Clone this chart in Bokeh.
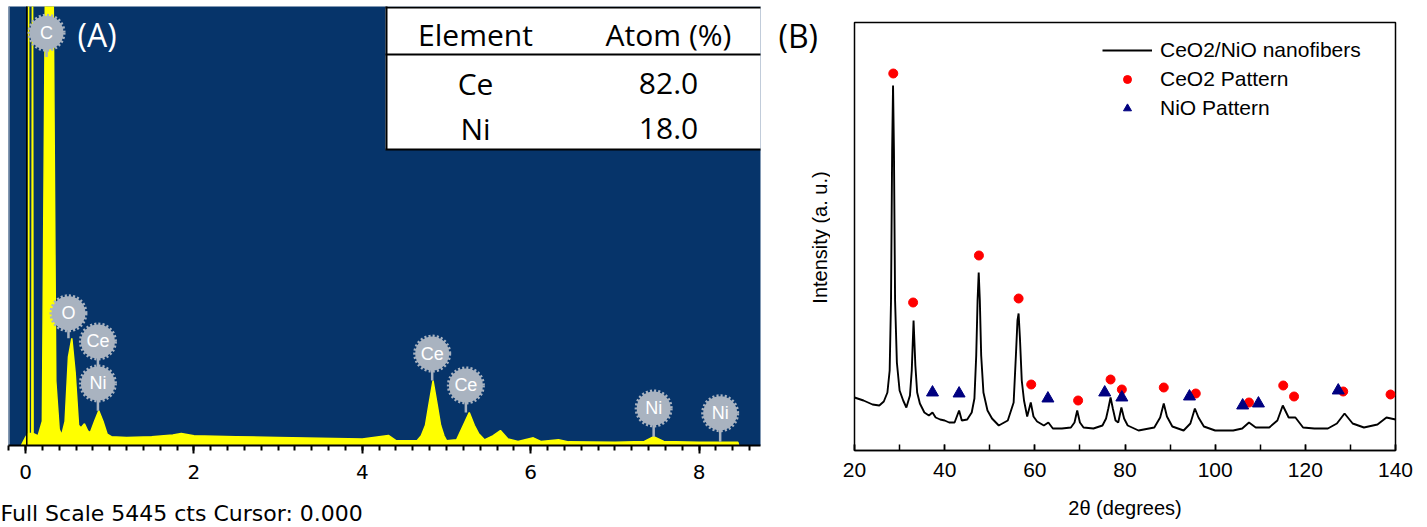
import math
from bokeh.plotting import figure
from bokeh.layouts import row, column
from bokeh.models import (Label, Range1d, SingleIntervalTicker, Legend, LegendItem,
                          ColumnDataSource, Plot)
from bokeh.embed import file_html
from bokeh.resources import INLINE
from bokeh.core.properties import value

# ---------------- (A) EDS spectrum data ----------------
eds_kev = [-0.05, 0.0, 0.03, 0.036, 0.042, 0.075, 0.083, 0.09, 0.15, 0.20, 0.245, 0.32,
           0.36, 0.40, 0.43, 0.47, 0.51, 0.55, 0.59, 0.63, 0.66, 0.70, 0.74, 0.77, 0.82,
           0.87, 0.92, 0.97, 1.02, 1.2, 1.5, 1.75, 1.85, 2.0, 2.5, 3.0, 3.5, 4.0, 4.31,
           4.4, 4.65, 4.70, 4.75, 4.79, 4.84, 4.89, 4.93, 4.97, 5.0, 5.12, 5.2, 5.27, 5.33,
           5.38, 5.45, 5.55, 5.64, 5.73, 5.85, 6.03, 6.12, 6.33, 6.45, 7.0, 7.35, 7.46,
           7.58, 8.0, 8.46, 8.47]
eds_counts = [0, 100, 150, 7000, 150, 150, 7000, 150, 120, 300, 7000, 7000,
              800, 200, 130, 300, 1100, 1330, 900, 250, 220, 270, 180, 160, 300,
              430, 300, 140, 110, 100, 110, 130, 150, 120, 110, 100, 90, 80, 125,
              60, 60, 120, 250, 500, 805, 500, 250, 120, 60, 70, 250, 410, 250,
              150, 70, 120, 185, 80, 50, 95, 50, 70, 45, 40, 50, 110,
              50, 40, 40, 0]
eds_full_scale = 5445

badge_text = ["C", "O", "Ce", "Ni", "Ce", "Ce", "Ni", "Ni"]
badge_kev = [0.25, 0.51, 0.86, 0.86, 4.83, 5.23, 7.46, 8.25]
badge_counts = [5120, 1640, 1290, 770, 1140, 745, 460, 400]
badge_stem_end = [4820, 1330, 770, 430, 805, 410, 110, 45]

table_header = ["Element", "Atom (%)"]
table_element = ["Ce", "Ni"]
table_atom = ["82.0", "18.0"]

# ---------------- (B) XRD data ----------------
xrd_2theta = [20, 22, 24, 25.5, 26.5, 27.3, 27.8, 28.1, 28.35, 28.55, 28.75, 29.0, 29.4,
              30.0, 30.8, 31.5, 32.3, 32.7, 33.1, 33.5, 33.9, 34.5, 35.5, 36.5, 37.3,
              38.0, 39.0, 40.0, 41.0, 42.2, 43.2, 43.8, 45.0, 46.0, 46.6, 47.0, 47.3,
              47.55, 47.8, 48.1, 48.6, 49.5, 50.5, 52.0, 54.0, 55.3, 55.8, 56.15, 56.4,
              56.7, 57.1, 57.6, 58.3, 59.1, 59.7, 60.5, 62.0, 63.0, 64.0, 66.0, 68.0,
              68.8, 69.4, 70.0, 70.8, 73.0, 75.0, 75.8, 76.3, 76.8, 77.3, 77.9, 78.5,
              79.2, 79.8, 80.6, 83.0, 86.5, 87.8, 88.6, 89.3, 90.5, 93.0, 94.5, 95.5,
              96.3, 97.5, 100.0, 104.0, 106.0, 107.5, 109.0, 112.0, 113.8, 115.0,
              116.3, 117.8, 119.5, 122.0, 125.0, 127.0, 128.7, 130.5, 133.0, 136.0,
              138.0, 140.0]
xrd_intensity = [53, 50, 46, 45, 49, 58, 80, 150, 300, 365, 300, 150, 88,
                 60, 50, 43, 55, 80, 130, 85, 58, 47, 38, 35, 38,
                 33, 31, 30, 28, 28, 40, 30, 31, 38, 52, 95, 150,
                 178, 150, 95, 58, 40, 32, 25, 30, 48, 95, 130, 137,
                 112, 70, 50, 34, 48, 34, 29, 25, 28, 22, 22, 23,
                 28, 40, 28, 23, 22, 25, 32, 42, 53, 42, 30, 28,
                 43, 32, 25, 20, 23, 33, 47, 34, 24, 20, 27, 42,
                 33, 24, 20, 20, 22, 28, 23, 23, 30, 45,
                 33, 33, 23, 22, 22, 27, 37, 27, 23, 26,
                 33, 31]
ceo2_2theta = [28.6, 33.0, 47.6, 56.4, 59.2, 69.6, 76.8, 79.3, 88.6, 95.7, 107.5,
               115.1, 117.5, 128.4, 138.9]
ceo2_intensity = [377, 148, 195, 152, 66, 50, 71, 61, 63, 57, 48, 65, 54, 59, 56]
nio_2theta = [37.3, 43.2, 62.9, 75.5, 79.3, 94.3, 106.1, 109.6, 127.3]
nio_intensity = [58, 57, 52, 58, 53, 54, 45, 47, 60]

# ---------------- layout constants (page pixels) ----------------
H = 527
B_T, B_B = 22, 450                     # frame top / bottom for the strip and panel B
A_W, A_L, A_R, A_T = 770, 8, 760, 6
A_H = 500                              # panel A plot height, footer below it
A_BASE = 445                           # bottom of the blue spectrum area
A_X0, A_X1 = -0.202, 8.729
C_W = 60                               # strip holding "(B)" and the y label
B_START = A_W + C_W
B_W, B_L, B_R = 1427 - B_START, 854, 1395
B_X0, B_X1 = 20, 140

NO_ALIGN = {"frame_align": False} if "frame_align" in Plot.properties() else {}


def ax(px):
    return A_X0 + (px - A_L) / (A_R - A_L) * (A_X1 - A_X0)


def ay(py):
    return eds_full_scale * (A_BASE - py) / (A_BASE - A_T)


def by(py):
    return B_B - py


BLUE = "#06346a"
YELLOW = "#ffff00"
BADGE = "#a9b3c0"
base = dict(output_backend="svg", toolbar_location=None, title_location=None,
            **NO_ALIGN)

# ================= Panel A =================
pa = figure(width=A_W, height=A_H, x_range=Range1d(A_X0, A_X1),
            y_range=Range1d(0, eds_full_scale), y_axis_location=None,
            min_border_left=A_L, min_border_right=A_W - A_R,
            min_border_top=A_T, min_border_bottom=A_H - A_BASE, **base)
pa.background_fill_color = BLUE
pa.border_fill_color = "white"
pa.outline_line_color = None
pa.grid.visible = False

src_eds = ColumnDataSource(dict(x=eds_kev, y=eds_counts))
pa.varea(x="x", y1=0, y2="y", source=src_eds, fill_color=YELLOW)
pa.line(x="x", y="y", source=src_eds, line_color=YELLOW, line_width=1.5)
pa.line(x=[ax(A_L) + 0.006] * 2, y=[0, eds_full_scale * 1.2],
        line_color="#8796ad", line_width=1.5)
# cursor line at 0 keV
pa.line(x=[0.015, 0.015], y=[0, eds_full_scale * 1.1], line_color="black",
        line_width=1.5)

# badges
src_b = ColumnDataSource(dict(x=badge_kev, y=badge_counts, y1=badge_stem_end,
                              t=badge_text))
pa.segment(x0="x", y0="y", x1="x", y1="y1", source=src_b,
           line_color=BADGE, line_width=2.5)
pa.scatter(x="x", y="y", source=src_b, marker="circle", size=34,
           fill_color=BADGE, line_color=BADGE, line_width=4, line_dash="2 2")
pa.text(x="x", y="y", text="t", source=src_b, text_color="white",
        text_font=value("Liberation Sans"), text_font_size="18px",
        text_align="center", text_baseline="middle")

# table
pa.quad(left=[ax(385)], right=[A_X1 + 1], bottom=[ay(149)], top=[eds_full_scale * 1.2],
        fill_color="white", line_color=None)
pa.segment(x0=[ax(385)] * 3, x1=[A_X1 + 1] * 3,
           y0=[ay(7), ay(54), ay(149)], y1=[ay(7), ay(54), ay(149)],
           line_color="black", line_width=2)
pa.segment(x0=[ax(386)], x1=[ax(386)], y0=[ay(149)], y1=[eds_full_scale * 1.2],
           line_color="black", line_width=2)
col_x = [ax(475), ax(668)]
for cx, h in zip(col_x, table_header):
    pa.add_layout(Label(x=cx, y=ay(34), text=h, text_align="center",
                        text_baseline="middle", text_font="Open Sans",
                        text_font_size="30px", text_color="black"))
for ry, el, at in zip([ay(83), ay(128)], table_element, table_atom):
    pa.add_layout(Label(x=col_x[0], y=ry, text=el, text_align="center",
                        text_baseline="middle", text_font="Open Sans",
                        text_font_size="30px", text_color="black"))
    pa.add_layout(Label(x=col_x[1], y=ry, text=at, text_align="center",
                        text_baseline="middle", text_font="Open Sans",
                        text_font_size="30px", text_color="black"))

pa.add_layout(Label(x=ax(77), y=ay(34), text="(A)", text_align="left",
                    text_baseline="middle", text_font="Open Sans",
                    text_font_size="32px", text_color="white"))

xa = pa.xaxis[0]
xa.ticker = SingleIntervalTicker(interval=2, num_minor_ticks=10)
xa.axis_line_color = "black"
xa.axis_line_width = 2
xa.major_tick_in = 0
xa.major_tick_out = 8
xa.minor_tick_in = 0
xa.minor_tick_out = 5
xa.major_tick_line_width = 2
xa.minor_tick_line_width = 2
xa.major_label_text_font = "DejaVu Sans"
xa.major_label_text_font_size = "20px"
xa.major_label_text_color = "black"
xa.major_label_standoff = 11

# footer line under panel A
pf = figure(width=A_W, height=H - A_H, x_range=Range1d(0, A_W),
            y_range=Range1d(0, H - A_H), x_axis_location=None, y_axis_location=None,
            min_border_left=0, min_border_right=0, min_border_top=0,
            min_border_bottom=0, **base)
pf.outline_line_color = None
pf.grid.visible = False
pf.background_fill_color = "white"
pf.border_fill_color = "white"
pf.add_layout(Label(x=0, y=H - 513, text="Full Scale 5445 cts Cursor: 0.000",
                    text_align="left", text_baseline="middle",
                    text_font="DejaVu Sans", text_font_size="22px",
                    text_color="black"))

# ================= strip between the panels =================
pc = figure(width=C_W, height=H, x_range=Range1d(0, C_W),
            y_range=Range1d(0, B_B - B_T), x_axis_location=None, y_axis_location=None,
            min_border_left=0, min_border_right=0, min_border_top=B_T,
            min_border_bottom=H - B_B, **base)
pc.outline_line_color = None
pc.grid.visible = False
pc.background_fill_color = "white"
pc.border_fill_color = "white"
pc.add_layout(Label(x=778 - A_W, y=by(35), text="(B)", text_align="left",
                    text_baseline="middle", text_font="Open Sans",
                    text_font_size="32px", text_color="black"))
pc.add_layout(Label(x=819 - A_W, y=by(237), text="Intensity (a. u.)",
                    angle=math.pi / 2, text_align="center", text_baseline="middle",
                    text_font="Liberation Sans", text_font_size="20px",
                    text_color="black"))

# ================= Panel B =================
pb = figure(width=B_W, height=H, x_range=Range1d(B_X0, B_X1),
            y_range=Range1d(0, B_B - B_T), y_axis_location=None,
            min_border_left=B_L - B_START, min_border_right=1427 - B_R,
            min_border_top=B_T, min_border_bottom=H - B_B, **base)
pb.background_fill_color = "white"
pb.border_fill_color = "white"
pb.outline_line_color = "black"
pb.outline_line_width = 1.5
pb.outline_line_alpha = 1.0
pb.grid.visible = False

r_line = pb.line(xrd_2theta, xrd_intensity, line_color="black", line_width=1.9)
r_ceo2 = pb.scatter(ceo2_2theta, ceo2_intensity, marker="circle", size=9,
                    fill_color="#ff0000", line_color="#ff0000")
r_nio = pb.scatter(nio_2theta, nio_intensity, marker="triangle", size=12,
                   fill_color="#000080", line_color="#000080")

legend = Legend(items=[LegendItem(label="CeO2/NiO nanofibers", renderers=[r_line]),
                       LegendItem(label="CeO2 Pattern", renderers=[r_ceo2]),
                       LegendItem(label="NiO Pattern", renderers=[r_nio])],
                location=(1102 - B_L, B_B - 120), border_line_color=None,
                background_fill_color="white", background_fill_alpha=1.0,
                label_text_font="Liberation Sans", label_text_font_size="21px",
                label_text_color="black", glyph_width=50, glyph_height=20,
                label_standoff=8, spacing=5, padding=8, margin=0)
pb.add_layout(legend)

xb = pb.xaxis[0]
xb.ticker = SingleIntervalTicker(interval=20, num_minor_ticks=2)
xb.major_tick_in = 6
xb.major_tick_out = 0
xb.minor_tick_in = 6
xb.minor_tick_out = 0
xb.axis_line_width = 1.5
xb.major_tick_line_width = 1.5
xb.minor_tick_line_width = 1.5
xb.major_label_text_font = "Liberation Sans"
xb.major_label_text_font_size = "21px"
xb.major_label_text_color = "black"
xb.major_label_standoff = 12
xb.axis_label = "2θ (degrees)"
xb.axis_label_text_font = "Liberation Sans"
xb.axis_label_text_font_size = "20px"
xb.axis_label_text_font_style = "normal"
xb.axis_label_text_color = "black"
xb.axis_label_standoff = 17

layout = row(column(pa, pf), pc, pb)
open("out.html", "w").write(file_html(layout, INLINE))
